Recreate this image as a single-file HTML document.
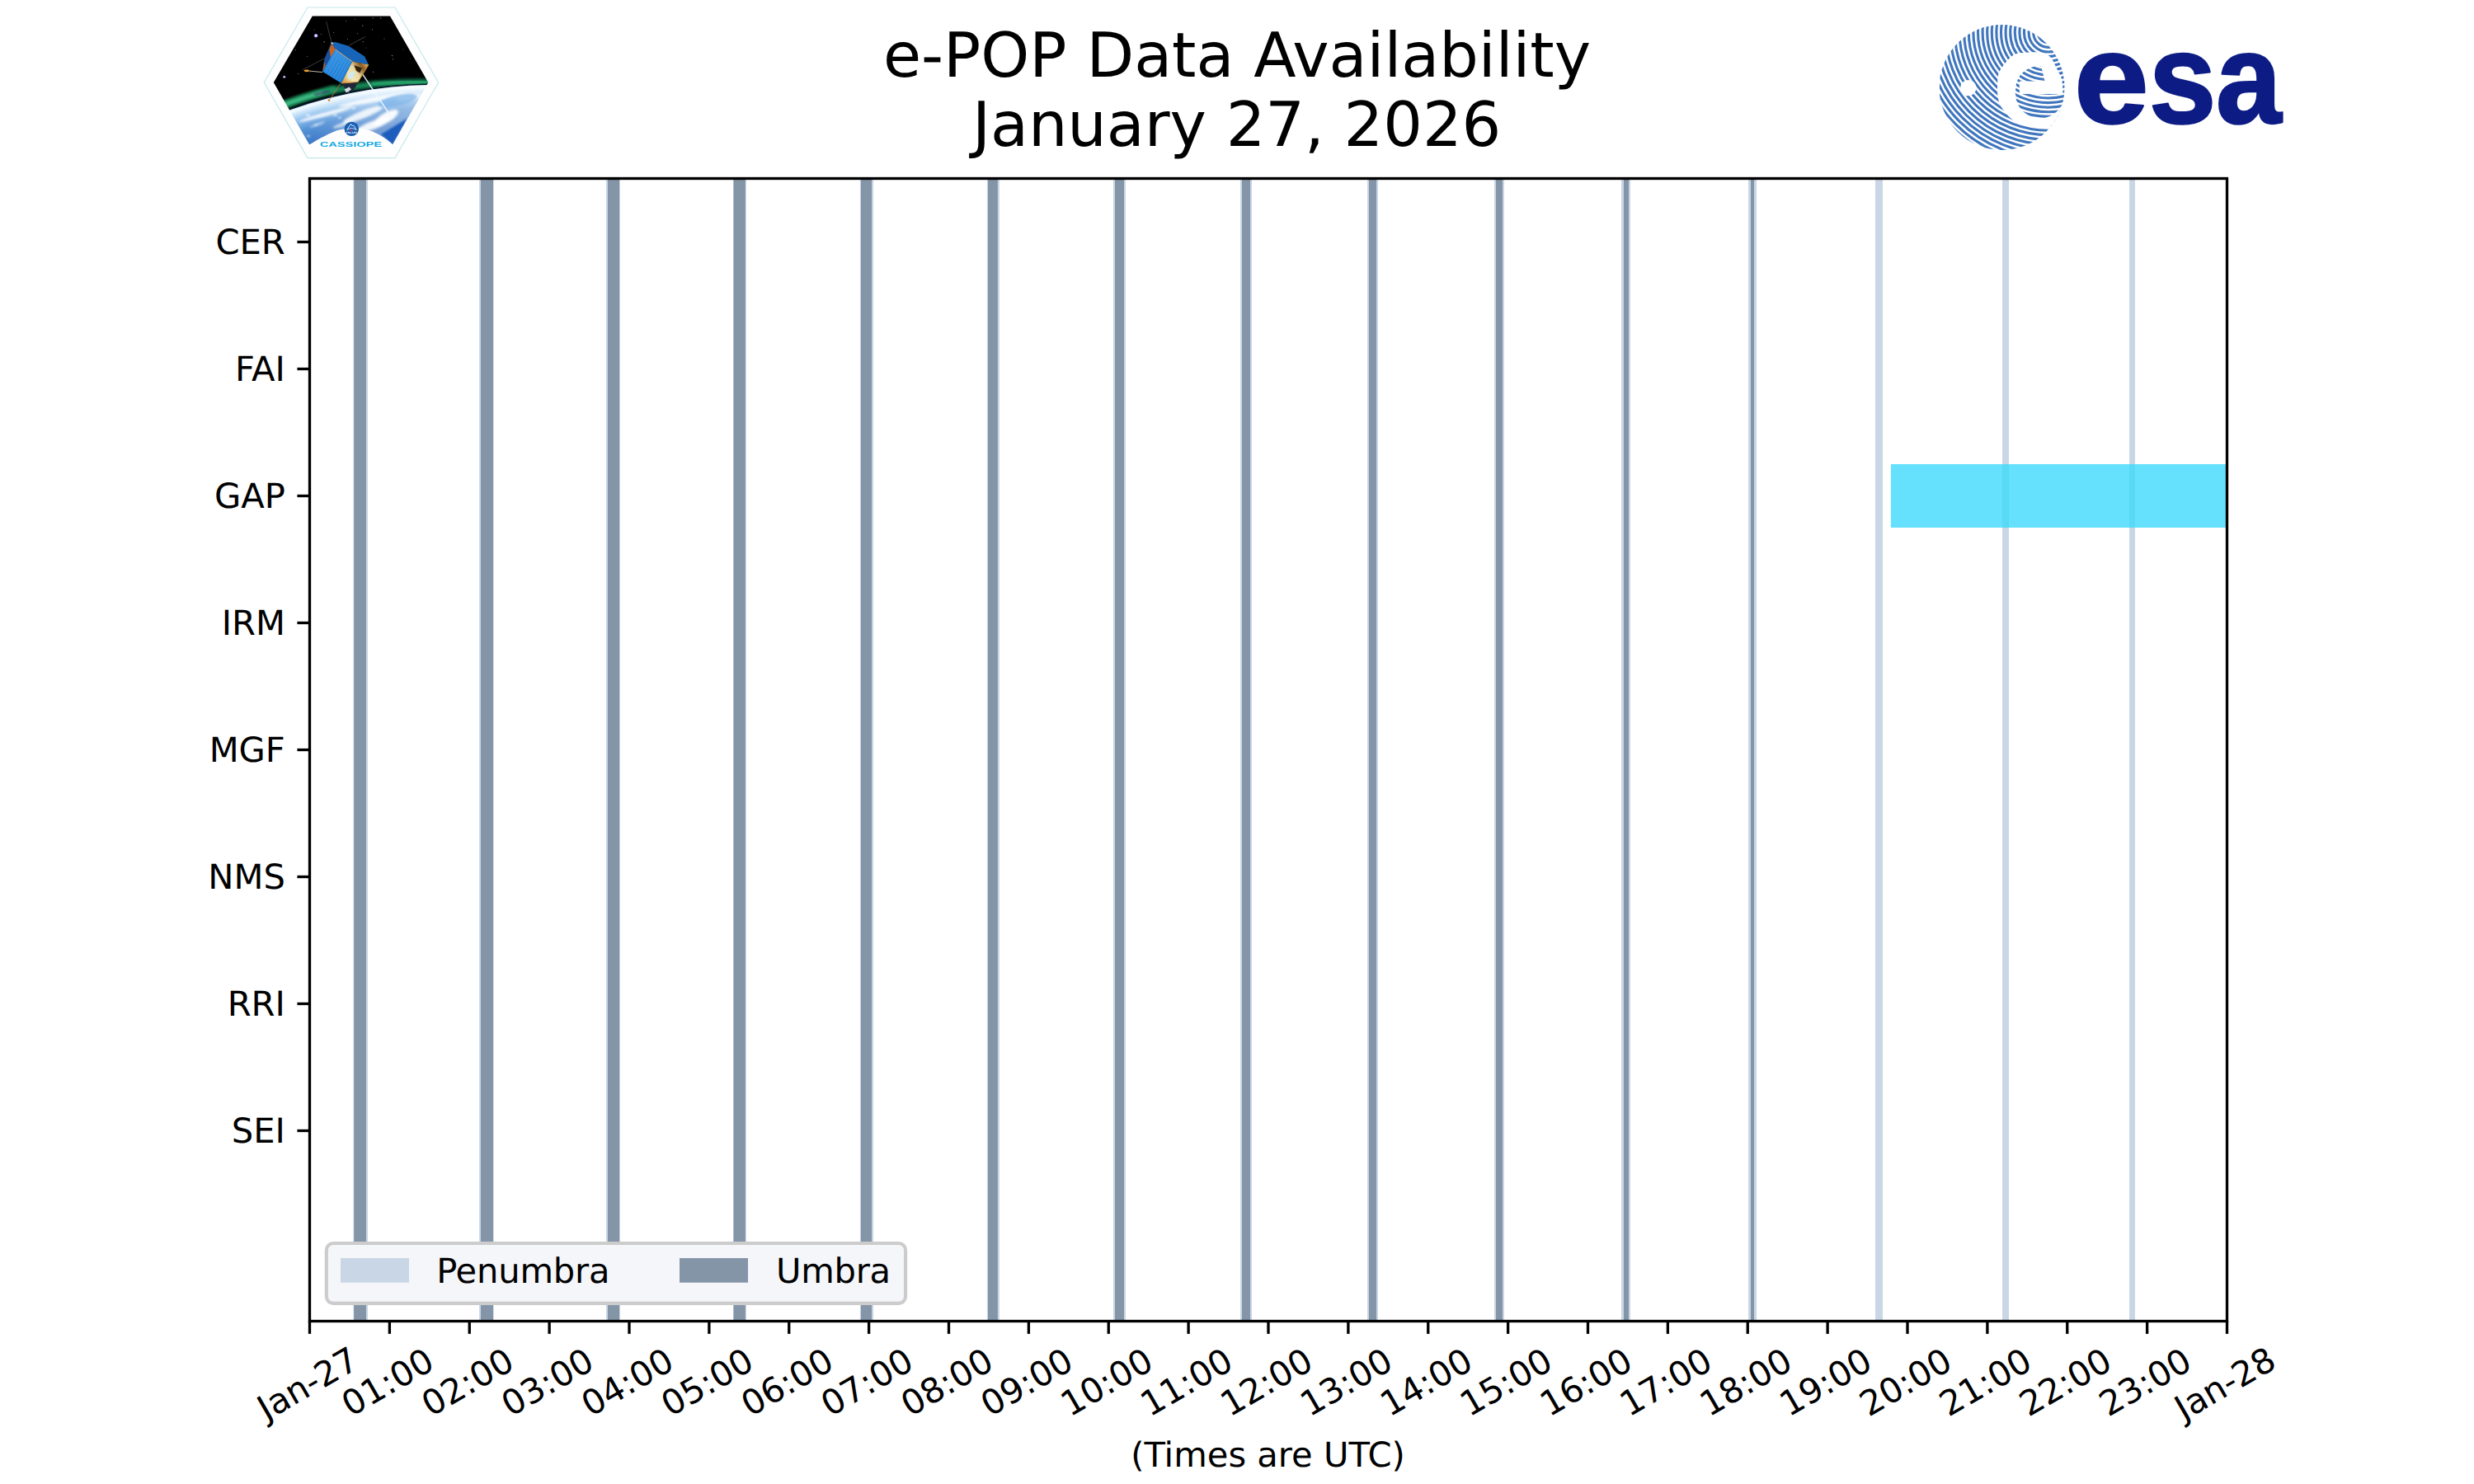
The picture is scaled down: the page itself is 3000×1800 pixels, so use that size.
<!DOCTYPE html>
<html lang="en">
<head>
<meta charset="utf-8">
<title>e-POP Data Availability - January 27, 2026</title>
<style>
html,body{margin:0;padding:0;background:#fff;}
body{width:3000px;height:1800px;overflow:hidden;}
svg{display:block;}
svg text{font-family:'DejaVu Sans','Liberation Sans',sans-serif;fill:#000;text-rendering:geometricPrecision;}
svg text.esa-word{font-family:'Liberation Sans',sans-serif;font-weight:bold;fill:#111d85;stroke:#111d85;stroke-linejoin:round;}
svg text.cas-word{font-family:'Liberation Sans',sans-serif;font-weight:bold;fill:#17a6e3;}
svg text.cas-csa{font-family:'Liberation Sans',sans-serif;font-weight:bold;fill:#fff;}
</style>
</head>
<body>
<svg width="3000" height="1800" viewBox="0 0 3000 1800">
<rect width="3000" height="1800" fill="#fff"/>
<g id="plot">
<g id="penumbra" fill="#c8d6e6">
<rect x="428.5" y="216" width="17.5" height="1386"/>
<rect x="581.1" y="216" width="17.6" height="1386"/>
<rect x="735" y="216" width="16.9" height="1386"/>
<rect x="889" y="216" width="15.9" height="1386"/>
<rect x="1042.9" y="216" width="16.2" height="1386"/>
<rect x="1196.9" y="216" width="15.1" height="1386"/>
<rect x="1350" y="216" width="15" height="1386"/>
<rect x="1504" y="216" width="14" height="1386"/>
<rect x="1658" y="216" width="13" height="1386"/>
<rect x="1812" y="216" width="12" height="1386"/>
<rect x="1966" y="216" width="11" height="1386"/>
<rect x="2120" y="216" width="10" height="1386"/>
<rect x="2274" y="216" width="9" height="1386"/>
<rect x="2428" y="216" width="8" height="1386"/>
<rect x="2582" y="216" width="7" height="1386"/>
</g>
<g id="umbra" fill="#8595a8">
<rect x="429.2" y="216" width="14.8" height="1386"/>
<rect x="583" y="216" width="15" height="1386"/>
<rect x="737" y="216" width="14.1" height="1386"/>
<rect x="889.6" y="216" width="14.3" height="1386"/>
<rect x="1044" y="216" width="13.1" height="1386"/>
<rect x="1198" y="216" width="11.9" height="1386"/>
<rect x="1352" y="216" width="11" height="1386"/>
<rect x="1506" y="216" width="10" height="1386"/>
<rect x="1660" y="216" width="9" height="1386"/>
<rect x="1814" y="216" width="8" height="1386"/>
<rect x="1969" y="216" width="6" height="1386"/>
<rect x="2123" y="216" width="4" height="1386"/>
</g>
<rect id="bar-gap" x="2292.9" y="563" width="407.1" height="77" fill="#65e1fd"/>
<rect x="2428" y="563" width="8" height="77" fill="#58d9f6"/>
<rect x="2582" y="563" width="7" height="77" fill="#58d9f6"/>
</g>
<g id="ticks" stroke="#000" stroke-width="3.33" fill="none">
<line x1="375.5" y1="1602" x2="375.5" y2="1617.88"/>
<line x1="472.38" y1="1602" x2="472.38" y2="1617.88"/>
<line x1="569.25" y1="1602" x2="569.25" y2="1617.88"/>
<line x1="666.12" y1="1602" x2="666.12" y2="1617.88"/>
<line x1="763" y1="1602" x2="763" y2="1617.88"/>
<line x1="859.88" y1="1602" x2="859.88" y2="1617.88"/>
<line x1="956.75" y1="1602" x2="956.75" y2="1617.88"/>
<line x1="1053.62" y1="1602" x2="1053.62" y2="1617.88"/>
<line x1="1150.5" y1="1602" x2="1150.5" y2="1617.88"/>
<line x1="1247.38" y1="1602" x2="1247.38" y2="1617.88"/>
<line x1="1344.25" y1="1602" x2="1344.25" y2="1617.88"/>
<line x1="1441.12" y1="1602" x2="1441.12" y2="1617.88"/>
<line x1="1538" y1="1602" x2="1538" y2="1617.88"/>
<line x1="1634.88" y1="1602" x2="1634.88" y2="1617.88"/>
<line x1="1731.75" y1="1602" x2="1731.75" y2="1617.88"/>
<line x1="1828.62" y1="1602" x2="1828.62" y2="1617.88"/>
<line x1="1925.5" y1="1602" x2="1925.5" y2="1617.88"/>
<line x1="2022.38" y1="1602" x2="2022.38" y2="1617.88"/>
<line x1="2119.25" y1="1602" x2="2119.25" y2="1617.88"/>
<line x1="2216.12" y1="1602" x2="2216.12" y2="1617.88"/>
<line x1="2313" y1="1602" x2="2313" y2="1617.88"/>
<line x1="2409.88" y1="1602" x2="2409.88" y2="1617.88"/>
<line x1="2506.75" y1="1602" x2="2506.75" y2="1617.88"/>
<line x1="2603.62" y1="1602" x2="2603.62" y2="1617.88"/>
<line x1="2700.5" y1="1602" x2="2700.5" y2="1617.88"/>
<line x1="360.42" y1="293.5" x2="375" y2="293.5"/>
<line x1="360.42" y1="447.5" x2="375" y2="447.5"/>
<line x1="360.42" y1="601.5" x2="375" y2="601.5"/>
<line x1="360.42" y1="755.5" x2="375" y2="755.5"/>
<line x1="360.42" y1="909.5" x2="375" y2="909.5"/>
<line x1="360.42" y1="1063.5" x2="375" y2="1063.5"/>
<line x1="360.42" y1="1217.5" x2="375" y2="1217.5"/>
<line x1="360.42" y1="1371.5" x2="375" y2="1371.5"/>
</g>
<rect id="spines" x="375.5" y="216.5" width="2325" height="1386" fill="none" stroke="#000" stroke-width="3.33"/>
<g id="xticklabels" font-size="41.67px">
<text transform="translate(323.12 1723.83) rotate(-30)">Jan-27</text>
<text transform="translate(425.33 1719.02) rotate(-30)">01:00</text>
<text transform="translate(522.2 1719.02) rotate(-30)">02:00</text>
<text transform="translate(619.08 1719.02) rotate(-30)">03:00</text>
<text transform="translate(715.95 1719.02) rotate(-30)">04:00</text>
<text transform="translate(812.83 1719.02) rotate(-30)">05:00</text>
<text transform="translate(909.7 1719.02) rotate(-30)">06:00</text>
<text transform="translate(1006.58 1719.02) rotate(-30)">07:00</text>
<text transform="translate(1103.45 1719.02) rotate(-30)">08:00</text>
<text transform="translate(1200.33 1719.02) rotate(-30)">09:00</text>
<text transform="translate(1297.2 1719.02) rotate(-30)">10:00</text>
<text transform="translate(1394.08 1719.02) rotate(-30)">11:00</text>
<text transform="translate(1490.95 1719.02) rotate(-30)">12:00</text>
<text transform="translate(1587.83 1719.02) rotate(-30)">13:00</text>
<text transform="translate(1684.7 1719.02) rotate(-30)">14:00</text>
<text transform="translate(1781.58 1719.02) rotate(-30)">15:00</text>
<text transform="translate(1878.45 1719.02) rotate(-30)">16:00</text>
<text transform="translate(1975.33 1719.02) rotate(-30)">17:00</text>
<text transform="translate(2072.2 1719.02) rotate(-30)">18:00</text>
<text transform="translate(2169.08 1719.02) rotate(-30)">19:00</text>
<text transform="translate(2265.95 1719.02) rotate(-30)">20:00</text>
<text transform="translate(2362.83 1719.02) rotate(-30)">21:00</text>
<text transform="translate(2459.7 1719.02) rotate(-30)">22:00</text>
<text transform="translate(2556.58 1719.02) rotate(-30)">23:00</text>
<text transform="translate(2648.12 1723.83) rotate(-30)">Jan-28</text>
</g>
<g id="yticklabels" font-size="41.67px" text-anchor="end">
<text x="345.83" y="307.87">CER</text>
<text x="345.83" y="461.87">FAI</text>
<text x="345.83" y="615.87">GAP</text>
<text x="345.83" y="769.87">IRM</text>
<text x="345.83" y="923.87">MGF</text>
<text x="345.83" y="1077.87">NMS</text>
<text x="345.83" y="1231.87">RRI</text>
<text x="345.83" y="1385.87">SEI</text>
</g>
<text id="xlabel" font-size="41.67px" text-anchor="middle" x="1537.5" y="1779.46">(Times are UTC)</text>
<g id="legend">
<rect x="395.83" y="1507.96" width="702.26" height="72.91" rx="8.33" ry="8.33" fill="#f5f6fa" stroke="#cccccc" stroke-width="4.17"/>
<rect x="413" y="1526" width="83" height="29.7" fill="#c8d6e6"/>
<text font-size="41.67px" x="529.17" y="1555.83" letter-spacing="-0.2">Penumbra</text>
<rect x="824" y="1526" width="83" height="29.7" fill="#8595a8"/>
<text font-size="41.67px" x="940.93" y="1555.83" letter-spacing="-0.25">Umbra</text>
</g>
<g id="title" font-size="75px">
<text x="1070.88" y="92.99">e-POP Data Availability</text>
<text x="1178.92" y="176.97" letter-spacing="-0.05">January 27, 2026</text>
</g>
<g id="logo-cassiope">
<defs>
<clipPath id="cas-clip"><polygon points="378.8,19.4 473,19.4 519.3,100 476,175.5 375,175.2 331.8,100"/></clipPath>
<clipPath id="cas-earthclip"><circle cx="525.7" cy="619" r="516"/></clipPath>
<filter id="cas-soft" x="-5%" y="-5%" width="110%" height="110%"><feGaussianBlur stdDeviation="0.55"/></filter>
<filter id="cas-b2" x="-20%" y="-60%" width="140%" height="220%"><feGaussianBlur stdDeviation="1.8"/></filter>
<filter id="cas-b3" x="-30%" y="-80%" width="160%" height="260%"><feGaussianBlur stdDeviation="3"/></filter>
<filter id="cas-b1" x="-20%" y="-40%" width="140%" height="180%"><feGaussianBlur stdDeviation="1"/></filter>
<radialGradient id="cas-earth" gradientUnits="userSpaceOnUse" cx="525.7" cy="619" r="516">
<stop offset="0.84" stop-color="#2a60b6"/>
<stop offset="0.90" stop-color="#3672c3"/>
<stop offset="0.945" stop-color="#5592d6"/>
<stop offset="0.972" stop-color="#96c4ee"/>
<stop offset="0.988" stop-color="#d4eafb"/>
<stop offset="0.996" stop-color="#f6fcff"/>
<stop offset="1" stop-color="#c9e6fa"/>
</radialGradient>
<linearGradient id="cas-light" gradientUnits="userSpaceOnUse" x1="380" y1="0" x2="500" y2="0">
<stop offset="0" stop-color="#ffffff" stop-opacity="0"/><stop offset="0.55" stop-color="#ffffff" stop-opacity="0.28"/><stop offset="1" stop-color="#ffffff" stop-opacity="0.38"/>
</linearGradient>
<linearGradient id="cas-panel" gradientUnits="userSpaceOnUse" x1="406" y1="60" x2="414" y2="101">
<stop offset="0" stop-color="#3592e2"/><stop offset="1" stop-color="#1f7dd4"/>
</linearGradient>
<linearGradient id="cas-foil" gradientUnits="userSpaceOnUse" x1="416" y1="100" x2="446" y2="78">
<stop offset="0" stop-color="#d79c40"/><stop offset="0.3" stop-color="#f3e6b4"/><stop offset="0.55" stop-color="#e9d9a2"/><stop offset="0.8" stop-color="#8a5a24"/><stop offset="1" stop-color="#e8b568"/>
</linearGradient>
</defs>
<polygon points="320.2,100 372.9,9 479,9 531.6,100 479,191.6 372.9,191.6" fill="#fefefe" stroke="#c6e7ea" stroke-width="1.2"/>
<g clip-path="url(#cas-clip)">
<g filter="url(#cas-soft)">
<rect x="325" y="12" width="200" height="170" fill="#030303"/>
<g fill="#8d8d9c">
<circle cx="383.1" cy="43.2" r="2.3" fill="#8a84e0"/><circle cx="383.1" cy="43.2" r="1.2" fill="#f4f2ff"/>
<circle cx="344.7" cy="93.3" r="1.5" fill="#9d98e6"/><circle cx="344.7" cy="93.3" r="0.7" fill="#fff"/>
<circle cx="358.4" cy="60.5" r="0.6"/><circle cx="393.2" cy="50.7" r="0.7"/><circle cx="389.3" cy="41.4" r="0.5"/><circle cx="381.2" cy="36.2" r="0.5" opacity="0.6"/>
<circle cx="439.8" cy="31.1" r="0.7"/><circle cx="451.5" cy="35.8" r="0.6"/><circle cx="433.6" cy="40.4" r="0.5"/><circle cx="440.3" cy="50.6" r="0.6"/>
<circle cx="475.5" cy="67.5" r="0.7"/><circle cx="476.5" cy="71.8" r="0.6"/><circle cx="452.6" cy="87.3" r="0.6"/><circle cx="497.4" cy="71" r="0.5" opacity="0.6"/>
<circle cx="452.3" cy="21.8" r="0.6"/><circle cx="461.7" cy="21.9" r="0.6"/><circle cx="430.5" cy="23.3" r="0.5"/><circle cx="361.5" cy="89.5" r="0.6"/>
<circle cx="404.6" cy="39.5" r="0.5"/><circle cx="419.8" cy="25.5" r="0.5"/><circle cx="376" cy="87.5" r="0.4"/><circle cx="466" cy="47" r="0.5"/>
<circle cx="421.5" cy="47.5" r="0.5"/><circle cx="372.5" cy="68.5" r="0.5"/><circle cx="444" cy="58" r="0.4"/><circle cx="489" cy="60" r="0.4"/>
</g>
<!-- aurora -->
<g fill="none" stroke-linecap="round">
<path d="M332 134 C352 124.5 372 118 392 112.5 C412 107 434 104 456 102 C478 100.2 500 99.4 524 100" stroke="#0a4a30" stroke-width="10" opacity="0.9" filter="url(#cas-b2)"/>
<path d="M336 131.5 C356 123 374 117.3 392 112.6 C410 108 432 104.4 454 102.2 C478 100.2 500 99.6 524 100.2" stroke="#178a58" stroke-width="5.5" opacity="0.95" filter="url(#cas-b2)"/>
<path d="M338 129 Q366 118 404 108.2" stroke="#1c9a62" stroke-width="9" opacity="0.8" filter="url(#cas-b2)"/>
<path d="M346 126.5 Q366 119 390 112.6" stroke="#5ad39b" stroke-width="3.4" opacity="0.75" filter="url(#cas-b2)"/>
<path d="M452 101.8 Q485 99 520 99.8" stroke="#35c084" stroke-width="2.6" opacity="0.8" filter="url(#cas-b2)"/>
<path d="M382 114.8 L399 110.8" stroke="#4a2470" stroke-width="2.2" opacity="0.75" filter="url(#cas-b1)"/>
</g>
<!-- earth -->
<circle cx="525.7" cy="619" r="517.6" fill="#061426"/>
<circle cx="525.7" cy="619" r="516" fill="url(#cas-earth)"/>
<g clip-path="url(#cas-earthclip)">
<rect x="380" y="95" width="145" height="90" fill="url(#cas-light)"/>
<g fill="#ffffff" filter="url(#cas-b2)">
<ellipse cx="395" cy="138.5" rx="34" ry="2.4" transform="rotate(-15.5 395 138.5)" opacity="0.9"/>
<ellipse cx="452" cy="121" rx="42" ry="3" transform="rotate(-11 452 121)" opacity="0.85"/>
<ellipse cx="440" cy="139" rx="26" ry="4.6" transform="rotate(-22 440 139)" opacity="0.85"/>
<ellipse cx="468" cy="143" rx="17" ry="6" transform="rotate(-30 468 143)" opacity="0.95"/>
<ellipse cx="452" cy="152" rx="21" ry="5" transform="rotate(-20 452 152)" opacity="0.9"/>
<ellipse cx="416" cy="151" rx="13" ry="2" transform="rotate(-18 416 151)" opacity="0.7"/>
<ellipse cx="385" cy="151" rx="10" ry="1.4" transform="rotate(-20 385 151)" opacity="0.6"/>
<ellipse cx="497" cy="118" rx="18" ry="4" transform="rotate(-8 497 118)" opacity="0.6"/>
<ellipse cx="405" cy="163" rx="16" ry="1.6" transform="rotate(-24 405 163)" opacity="0.55"/>
</g>
<g filter="url(#cas-b1)">
<polygon points="462,163 494,143.5 476,176" fill="#1d5cbc"/>
<ellipse cx="482" cy="122" rx="24" ry="6.5" transform="rotate(-12 482 122)" fill="#7ab4e8" opacity="0.7"/>
<g fill="#ffffff" opacity="0.85">
<ellipse cx="373.5" cy="140" rx="3" ry="1"/><ellipse cx="406.5" cy="139.5" rx="2.6" ry="1.1"/><ellipse cx="383" cy="151.5" rx="2" ry="0.8"/><ellipse cx="412" cy="142.8" rx="2" ry="0.9"/><ellipse cx="374" cy="165" rx="2.4" ry="0.8"/><ellipse cx="429" cy="131" rx="2.6" ry="1"/>
</g>
</g>
</g>
<!-- beam -->
<path d="M438.3 88 L476 144" stroke="#eefaff" stroke-width="1.4" opacity="0.9" fill="none"/>
<!-- satellite -->
<g>
<g stroke="#62625e" stroke-width="0.6" fill="none">
<path d="M395.7 26.1 L401.8 51"/><path d="M366.7 84.7 L393 71.2"/><path d="M423.3 55 L442.9 44.6"/>
</g>
<path d="M374.5 86 L391 87.6" stroke="#b9b3a3" stroke-width="1" fill="none"/>
<ellipse cx="371.8" cy="85.8" rx="3.1" ry="1.4" fill="#f2a62c"/>
<path d="M412.6 101.5 L400.4 120" stroke="#b76a32" stroke-width="1" fill="none"/>
<circle cx="399" cy="121.6" r="1.4" fill="#d98324"/>
<path d="M421 103 L423.4 114" stroke="#8a8f98" stroke-width="0.8" fill="none"/>
<polygon points="414,101 434,99.5 431,106 426,111 419,108" fill="#20283a"/>
<polygon points="417.5,108.5 423.5,105.5 426,108.5 420,112.5" fill="#d6dbe4"/>
<polygon points="401.8,51.7 406.5,59.8 391,86.7 393.5,71" fill="#1d4f9e"/>
<polygon points="402.3,52.2 406.8,59.6 401,70 399.5,60" fill="#c8641c"/>
<polygon points="393.2,74 391.2,86.5 394.5,80" fill="#b5581a"/>
<polygon points="401.8,51.7 406.5,51 422.7,55.7 442.2,68.5 446.9,78.6 427.4,74.6 422.7,70.5 406.5,59.8" fill="#1765b8"/>
<polygon points="406.5,59.8 427.4,74.6 413.9,100.9 391,86.7" fill="url(#cas-panel)"/>
<g stroke="#6db2ee" stroke-width="0.5" opacity="0.85">
<path d="M409.5 61.9 L394.3 88.7"/><path d="M412.5 64 L397.6 90.8"/><path d="M415.5 66.2 L400.9 92.8"/><path d="M418.5 68.3 L404.1 94.8"/><path d="M421.4 70.4 L407.4 96.9"/><path d="M424.4 72.5 L410.6 98.9"/>
</g>
<path d="M406.5 59.8 L427.4 74.6" stroke="#e6b27a" stroke-width="0.9" fill="none"/>
<polygon points="427.4,74.6 446.9,78.6 434.1,99.5 413.9,100.9" fill="url(#cas-foil)"/>
<polygon points="429.5,79 439,82.5 436.5,88.5 432,86" fill="#33230f"/>
<polygon points="424,88 431,87 427.5,95 421,96" fill="#cfeaf5"/>
<path d="M413.9 100.9 L434.1 99.5 L446.9 78.6" stroke="#d98a2e" stroke-width="1" fill="none"/>
<path d="M401.5 51.6 L404 53" stroke="#f4e6d8" stroke-width="1.4"/>
</g>
</g>
</g>
<!-- label dome -->
<path d="M372 177.5 C382 171 396 163.5 408 158.6 C418 155.2 432 154.6 442 156.6 C454 159.4 466 165.5 478 177 L478 183 L372 183 Z" fill="#fefefe" filter="url(#cas-soft)"/>
<g filter="url(#cas-soft)">
<circle cx="426.3" cy="156.4" r="8.7" fill="#17569f"/>
<circle cx="426.3" cy="156.4" r="7.6" fill="#1a62b8"/>
<path d="M420.6 157.6 L425.6 150.3 L427.4 153 L428.6 151.8 L432.2 157.6" stroke="#ffffff" stroke-width="0.8" fill="none" stroke-linejoin="round"/>
<path d="M421 157.4 Q426.3 153.6 431.8 157.4" stroke="#ffffff" stroke-width="0.7" fill="none"/>
<circle cx="426.2" cy="158.2" r="1.1" fill="#e8283a"/>
<text x="426.3" y="162.1" text-anchor="middle" class="cas-csa" font-size="3.1px">CSA ASC</text>
</g>
<text x="388" y="178.3" class="cas-word" font-size="8.7px" textLength="75.2" lengthAdjust="spacingAndGlyphs" filter="url(#cas-soft)">CASSIOPE</text>
</g>

<g id="logo-esa">
<defs>
<clipPath id="esa-disc"><circle cx="2427.5" cy="106" r="76"/></clipPath>
<clipPath id="esa-box"><rect x="2352" y="28" width="160" height="160"/></clipPath>
<clipPath id="esa-e"><path d="M2445.8 98.5 A29.3 29.3 0 0 1 2475.0 80.1 L2479.6 98.5 Z"/><path d="M2445.3 98.5 L2448.8 98.5 L2448.8 113.9 L2443.6 113.9 Z"/><path d="M2444.1 113.9 A29.3 29.3 0 0 0 2503.4 113.9 Z"/></clipPath>
<filter id="esa-soft" x="-5%" y="-5%" width="110%" height="110%"><feGaussianBlur stdDeviation="0.7"/></filter>
<g id="esa-rings" fill="none" stroke="#3f76bd" stroke-width="3.1">
<circle cx="2483.7" cy="39.4" r="12.4"/><circle cx="2483.7" cy="39.4" r="18.0"/><circle cx="2483.7" cy="39.4" r="23.6"/><circle cx="2483.7" cy="39.4" r="29.2"/><circle cx="2483.7" cy="39.4" r="34.8"/><circle cx="2483.7" cy="39.4" r="40.4"/><circle cx="2483.7" cy="39.4" r="46.0"/><circle cx="2483.7" cy="39.4" r="51.6"/><circle cx="2483.7" cy="39.4" r="57.2"/><circle cx="2483.7" cy="39.4" r="62.8"/><circle cx="2483.7" cy="39.4" r="68.4"/><circle cx="2483.7" cy="39.4" r="74.0"/><circle cx="2483.7" cy="39.4" r="79.6"/><circle cx="2483.7" cy="39.4" r="85.2"/><circle cx="2483.7" cy="39.4" r="90.8"/><circle cx="2483.7" cy="39.4" r="96.4"/><circle cx="2483.7" cy="39.4" r="102.0"/><circle cx="2483.7" cy="39.4" r="107.6"/><circle cx="2483.7" cy="39.4" r="113.2"/><circle cx="2483.7" cy="39.4" r="118.8"/><circle cx="2483.7" cy="39.4" r="124.4"/><circle cx="2483.7" cy="39.4" r="130.0"/><circle cx="2483.7" cy="39.4" r="135.6"/><circle cx="2483.7" cy="39.4" r="141.2"/><circle cx="2483.7" cy="39.4" r="146.8"/><circle cx="2483.7" cy="39.4" r="152.4"/><circle cx="2483.7" cy="39.4" r="158.0"/><circle cx="2483.7" cy="39.4" r="163.6"/><circle cx="2483.7" cy="39.4" r="169.2"/>
</g>
</defs>
<g filter="url(#esa-soft)">
<g clip-path="url(#esa-box)"><g clip-path="url(#esa-disc)"><use href="#esa-rings"/>
<path d="M2422.0 106.0 C2422.1 101.7 2422.2 94.4 2423.2 90.3 C2424.2 86.2 2425.9 84.3 2428.0 81.2 C2430.1 78.1 2433.3 74.1 2436.0 71.5 C2438.7 68.9 2440.7 66.9 2444.0 65.6 C2447.3 64.3 2452.0 64.2 2456.0 63.8 C2460.0 63.4 2464.0 63.1 2468.0 63.3 C2472.0 63.5 2476.8 64.1 2480.0 65.2 C2483.2 66.3 2485.1 67.9 2487.0 70.0 C2488.9 72.1 2490.0 75.2 2491.5 78.0 C2493.0 80.8 2494.6 84.2 2496.0 87.0 C2497.4 89.8 2498.9 92.0 2499.8 95.0 C2500.7 98.0 2500.9 101.8 2501.2 105.0 C2501.5 108.2 2501.1 111.2 2501.6 114.0 C2502.1 116.8 2503.9 117.7 2504.0 122.0 C2504.1 126.3 2503.7 134.8 2502.0 140.0 C2500.3 145.2 2496.8 150.9 2494.0 153.5 C2491.2 156.1 2488.7 155.2 2485.0 155.3 C2481.3 155.4 2477.8 155.0 2472.0 154.3 C2466.2 153.6 2455.7 152.6 2450.4 151.0 C2445.1 149.4 2443.0 147.3 2440.0 145.0 C2437.0 142.7 2435.1 140.4 2432.6 137.3 C2430.1 134.2 2426.7 130.2 2425.0 126.7 C2423.3 123.2 2423.0 119.5 2422.5 116.0 C2422.0 112.5 2421.9 110.3 2422.0 106.0Z" fill="#ffffff"/>
<g clip-path="url(#esa-e)"><use href="#esa-rings"/></g>
<circle cx="2386.8" cy="106.6" r="9.7" fill="#ffffff"/>
</g></g>
<text class="esa-word" font-size="100px" stroke-width="1.6" transform="translate(0 149.13) scale(1 1.55879)" y="0"><tspan x="2514.93" textLength="90.64" lengthAdjust="spacingAndGlyphs">e</tspan><tspan x="2605.84" textLength="81.69" lengthAdjust="spacingAndGlyphs">s</tspan><tspan x="2687.11" textLength="79.58" lengthAdjust="spacingAndGlyphs">a</tspan></text>
</g>
</g>


</svg>
</body>
</html>
